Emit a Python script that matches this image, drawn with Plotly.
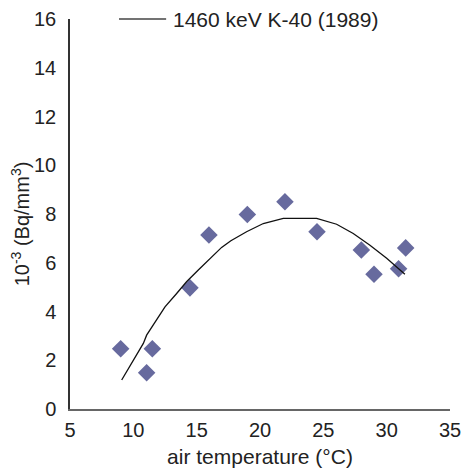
import plotly.graph_objects as go

# measured points
temp = [9.0, 11.5, 11.05, 14.47, 15.97, 19.0, 21.97, 24.5, 28.0, 29.0, 30.94, 31.5]
activity = [2.47, 2.47, 1.49, 4.97, 7.14, 7.98, 8.5, 7.27, 6.52, 5.53, 5.75, 6.61]

# fitted trend curve
fit_x = [9.08, 10.0, 10.79, 11.05, 11.84, 12.5, 13.42, 14.2, 15.13, 16.05, 16.97, 17.7, 18.94,
         20.26, 21.84, 24.47, 26.05, 27.36, 28.68, 30.0, 30.78, 31.44]
fit_y = [1.19, 2.0, 2.69, 3.03, 3.65, 4.19, 4.74, 5.22, 5.70, 6.18, 6.63, 6.9, 7.27,
         7.61, 7.82, 7.82, 7.58, 7.2, 6.72, 6.18, 5.83, 5.53]

x_ticks = [5, 10, 15, 20, 25, 30, 35]
y_ticks = [0, 2, 4, 6, 8, 10, 12, 14, 16]
legend_label = "1460 keV K-40 (1989)"
y_title = "10<sup>-3</sup> (Bq/mm<sup>3</sup>)"
x_title = "air temperature (°C)"

FONT = "Liberation Sans, Arial, Helvetica, sans-serif"

fig = go.Figure()
fig.add_trace(go.Scatter(
    x=temp, y=activity, mode="markers",
    marker=dict(symbol="diamond", size=13.5, color="#676a9e", line=dict(width=0)),
    showlegend=False,
))
fig.add_trace(go.Scatter(
    x=fit_x, y=fit_y, mode="lines",
    line=dict(color="#111111", width=1.3),
    name=legend_label, showlegend=False,
))

# legend drawn as line sample + text
fig.add_shape(type="line", xref="paper", yref="paper",
              x0=0.129, x1=0.253, y0=1.0, y1=1.0,
              line=dict(color="#444444", width=1.5))
fig.add_annotation(text=legend_label, xref="paper", yref="paper",
                   x=0.266, y=1.0, xanchor="left", yanchor="middle",
                   showarrow=False, font=dict(size=21, color="#222222"))

# y-axis title as rotated annotation
fig.add_annotation(text=y_title, xref="paper", yref="paper",
                   x=-0.131, y=0.474, xanchor="center", yanchor="middle",
                   textangle=-90, showarrow=False,
                   font=dict(size=20, color="#222222"))

fig.update_layout(
    width=461, height=468,
    margin=dict(l=70, r=11, t=19, b=59),
    paper_bgcolor="white", plot_bgcolor="white",
    font=dict(family=FONT, size=20, color="#222222"),
    xaxis=dict(range=[5, 35], tickvals=x_ticks, showgrid=False, zeroline=False,
               showline=True, linecolor="#666666", linewidth=1.5,
               ticks="", ticklabelstandoff=2, tickfont=dict(size=20),
               ticklabeloverflow="allow", automargin=False,
               title=dict(text=x_title, standoff=12, font=dict(size=21))),
    yaxis=dict(range=[0, 16], tickvals=y_ticks, showgrid=False, zeroline=False,
               showline=True, linecolor="#333333", linewidth=1.5,
               ticks="", ticklabelstandoff=8, tickfont=dict(size=20),
               ticklabeloverflow="allow", automargin=False),
)

fig.write_html("out.html")
